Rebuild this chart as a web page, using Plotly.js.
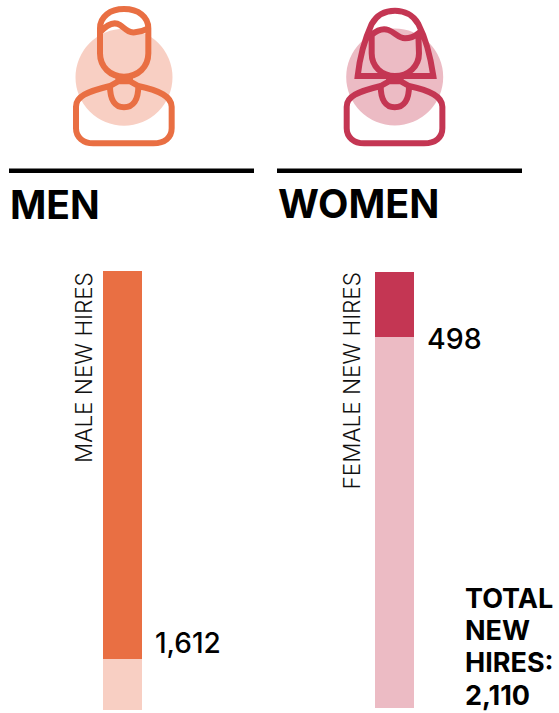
<!DOCTYPE html>
<html><head><meta charset="utf-8">
<script src="https://cdn.plot.ly/plotly-3.0.1.min.js"></script>
<style>html,body{margin:0;padding:0;background:#fff;overflow:hidden}</style></head>
<body><div id="chart" style="width:559px;height:713px"></div>
<script>
var menHires=1612, menRest=212;
var womenHires=498, womenRest=2842;
var totalLines=['TOTAL','NEW','HIRES:','2,110'];
var W=559,H=713;
var colors={men:'#E96F43',menL:'#F8CFC3',women:'#C43653',womenL:'#ECBBC4'};
var FONT='Inter, "Open Sans", sans-serif';
function fmt(n){return n.toLocaleString('en-US');}
function px(x){return x/W;} function py(y){return 1-y/H;}
function icon(d,ox){
  return d.replace(/(-?[\d.]+),(-?[\d.]+)/g,function(m,a,b){
    return px(ox+a/3).toFixed(5)+','+py(b/3).toFixed(5);});
}
var body='M205,228 L205,244 L180,258 C110,275 78,290 78,320 L78,385 C78,412 100,430 130,430 L310,430 C345,430 365,412 365,385 L365,320 C365,290 330,272 265,258 L240,244 L240,228 M180,258 C180,300 195,322 222,322 C250,322 265,300 265,258 M205,244 L240,244';
var menHead='M150,85 C150,50 180,27 222,27 C265,27 295,50 295,85 L295,160 C295,200 265,230 222,230 C180,230 150,200 150,160 Z M150,97 C170,75 190,62 210,75 C225,85 235,100 255,97 C275,95 285,90 295,85';
var womenHead='M113,228 L340,228 C330,160 312,105 295,72 C280,45 252,32 225,32 C195,32 170,45 155,72 C140,105 120,165 113,228 Z M155,105 C172,90 190,85 205,90 C225,97 235,115 255,115 C272,115 285,108 295,100 L297,160 C297,200 265,228 225,228 C185,228 155,200 155,160 Z';
function line(x0,x1){return {type:'line',xref:'paper',yref:'paper',x0:px(x0),x1:px(x1),y0:py(170.7),y1:py(170.7),line:{color:'#000',width:4.5},layer:'above'};}
function circ(cx,cy,r,c){return {type:'circle',xref:'paper',yref:'paper',x0:px(cx-r),x1:px(cx+r),y0:py(cy-r),y1:py(cy+r),fillcolor:c,line:{width:0},layer:'below'};}
function pth(d,ox,c){return {type:'path',xref:'paper',yref:'paper',path:icon(d,ox),line:{color:c,width:6},fillcolor:'rgba(0,0,0,0)',layer:'above'};}
function txt(t,x,y,size,opt){return Object.assign({text:t,xref:'paper',yref:'paper',x:px(x),y:py(y),xanchor:'left',yanchor:'middle',showarrow:false,font:{family:FONT,size:size,color:'#000'},borderpad:0},opt||{});}
var traces=[
 {type:'bar',x:['Men'],y:[menHires],marker:{color:colors.men,line:{width:0}},xaxis:'x',yaxis:'y',name:'Male new hires',hoverinfo:'skip'},
 {type:'bar',x:['Men'],y:[menRest],marker:{color:colors.menL,line:{width:0}},xaxis:'x',yaxis:'y',name:'Rest',hoverinfo:'skip'},
 {type:'bar',x:['Women'],y:[womenHires],marker:{color:colors.women,line:{width:0}},xaxis:'x2',yaxis:'y2',name:'Female new hires',hoverinfo:'skip'},
 {type:'bar',x:['Women'],y:[womenRest],marker:{color:colors.womenL,line:{width:0}},xaxis:'x2',yaxis:'y2',name:'Rest',hoverinfo:'skip'}
];
function hx(a,b){return {domain:[px(a),px(b)],visible:false,fixedrange:true};}
var heavy=function(s){return {family:FONT,size:s,color:'#000',weight:700};};
var light={family:FONT,size:22.5,color:'#111',weight:300};
var anns=[
 txt('MEN',8.5,204,39,{font:heavy(39)}),
 txt('WOMEN',276.5,204,39.5,{font:heavy(39.5)}),
 txt('MALE NEW HIRES',83,368,22.5,{textangle:-90,xanchor:'center',font:light}),
 txt('FEMALE NEW HIRES',351,381.5,22.5,{textangle:-90,xanchor:'center',font:light}),
 txt(fmt(menHires),153.5,643,28,{font:{family:FONT,size:28,color:'#000',weight:500}}),
 txt(fmt(womenHires),426.5,338,28.5,{font:{family:FONT,size:28.5,color:'#000',weight:500}})
];
var ys=[598,630,662,695];
totalLines.forEach(function(t,i){anns.push(txt(t,464.5,ys[i],27,{font:heavy(27)}));});
var layout={width:W,height:H,margin:{l:0,r:0,t:0,b:0},paper_bgcolor:'#fff',plot_bgcolor:'rgba(0,0,0,0)',
 showlegend:false,barmode:'stack',bargap:0,
 xaxis:hx(103,142),xaxis2:hx(375,414),
 yaxis:{domain:[py(710),py(271)],range:[menHires+menRest,0],visible:false,fixedrange:true},
 yaxis2:{domain:[py(708),py(272)],range:[womenHires+womenRest,0],visible:false,fixedrange:true},
 shapes:[circ(124,77.3,48.5,colors.menL),circ(394.7,77,48.5,colors.womenL),
  pth(body,50,colors.men),pth(menHead,50,colors.men),
  pth(body,320.7,colors.women),pth(womenHead,320,colors.women),
  line(9,254),line(277,522)],
 annotations:anns};
Plotly.newPlot('chart',traces,layout,{displayModeBar:false,staticPlot:true});
</script></body></html>
